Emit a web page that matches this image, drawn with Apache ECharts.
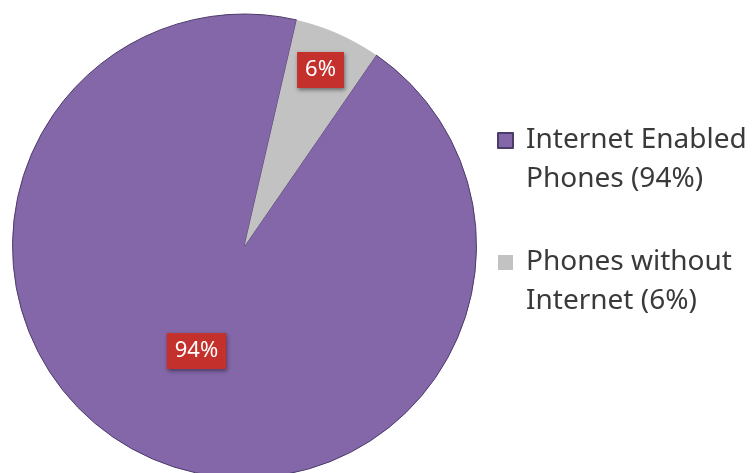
<!DOCTYPE html>
<html>
<head>
<meta charset="utf-8">
<script src="https://cdn.jsdelivr.net/npm/echarts@6/dist/echarts.min.js"></script>
<style>
  html, body { margin: 0; padding: 0; background: #ffffff; }
  #chart { width: 754px; height: 473px; }
</style>
</head>
<body>
<div id="chart"></div>
<script>
// slice names and shares (%)
var categories = ["Internet Enabled Phones", "Phones without Internet"];
var shares = [94, 6];
// legend text, two lines per entry
var legendLines = [
  ["Internet Enabled", "Phones (94%)"],
  ["Phones without", "Internet (6%)"]
];
var sliceColors = ["#8367a8", "#c2c2c2"];

var myChart = echarts.init(document.getElementById("chart"));

var pieData = categories.map(function (name, i) {
  return { name: name, value: shares[i], itemStyle: { color: sliceColors[i] } };
});
// small label nudges, like the original
pieData[0].label = { offset: [0, -4] };
pieData[1].label = { offset: [28, -67] };
pieData[1].itemStyle.borderWidth = 0;

var option = {
  animation: false,
  legend: {
    orient: "vertical",
    left: 497,
    top: 82,
    padding: 0,
    itemGap: 5,
    itemWidth: 15,
    itemHeight: 15,
    icon: "rect",
    data: categories,
    formatter: function (name) {
      var i = categories.indexOf(name);
      // blank first line so the icon sits next to the first text line
      return "\n" + legendLines[i].join("\n");
    },
    textStyle: {
      fontFamily: "Noto Sans",
      fontSize: 28,
      lineHeight: 39,
      color: "#3a3a3a",
      padding: [0, 0, 0, 8]
    }
  },
  series: [
    {
      type: "pie",
      center: [244.5, 246],
      radius: 232,
      startAngle: 55.4,
      clockwise: true,
      avoidLabelOverlap: false,
      itemStyle: {
        borderColor: "#4d3b6a",
        borderWidth: 1
      },
      label: {
        show: true,
        position: "inside",
        formatter: "{c}%",
        fontFamily: "Noto Sans",
        fontSize: 22,
        lineHeight: 24,
        color: "#ffffff",
        backgroundColor: "#c4302b",
        padding: [6, 8],
        shadowColor: "rgba(0,0,0,0.45)",
        shadowBlur: 4,
        shadowOffsetX: 1,
        shadowOffsetY: 2
      },
      labelLine: { show: false },
      emphasis: { disabled: true },
      data: pieData
    }
  ]
};
myChart.setOption(option);
</script>
</body>
</html>
